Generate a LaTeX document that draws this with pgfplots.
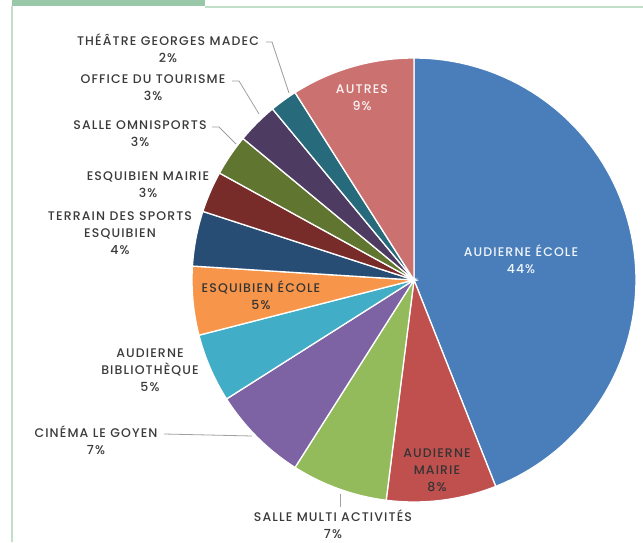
\documentclass[border=0pt]{standalone}
\usepackage{fontspec}
\setmainfont{Poppins}[BoldFont={Poppins Medium}]
\usepackage{pgfplots}
\pgfplotsset{compat=1.18}

\definecolor{cBlue}{HTML}{4A7EBB}
\definecolor{cRed}{HTML}{C0504D}
\definecolor{cGreen}{HTML}{93BB5C}
\definecolor{cPurple}{HTML}{7D62A4}
\definecolor{cAqua}{HTML}{42ADC6}
\definecolor{cOrange}{HTML}{F7964A}
\definecolor{cDBlue}{HTML}{284D74}
\definecolor{cDRed}{HTML}{772C2A}
\definecolor{cDGreen}{HTML}{5F7530}
\definecolor{cDPurple}{HTML}{4D3B62}
\definecolor{cTeal}{HTML}{276A7C}
\definecolor{cRose}{HTML}{CB7270}
\definecolor{lab}{HTML}{3A3A3A}
\definecolor{lead}{HTML}{A0A0A0}
\definecolor{frameA}{HTML}{98C8A8}
\definecolor{frameB}{HTML}{C0DEC8}

% slice: percentage, colour (clockwise from 12 o'clock)
\xdef\sStart{90}
\newcommand\slice[2]{%
  \pgfmathsetmacro\sEnd{\sStart-3.6*#1}%
  \edef\tmp{\noexpand\addplot[fill=#2, draw=white, line width=1.3pt,
    domain=\sEnd:\sStart, samples=80, data cs=polar] ({x},{1}) -- (axis cs:0,0) -- cycle;}%
  \tmp
  \xdef\sStart{\sEnd}}

\begin{document}
\begin{tikzpicture}
\path[use as bounding box] (0,0) rectangle (643pt,542pt);

\begin{axis}[
    at={(414pt,262pt)}, anchor=center,
    x=222pt, y=222pt,
    xmin=-1.05, xmax=1.05, ymin=-1.05, ymax=1.05,
    hide axis, clip=false,
]
\slice{44}{cBlue}    % Audierne école
\slice{8}{cRed}      % Audierne mairie
\slice{7}{cGreen}    % Salle multi activités
\slice{7}{cPurple}   % Cinéma le Goyen
\slice{5}{cAqua}     % Audierne bibliothèque
\slice{5}{cOrange}   % Esquibien école
\slice{4}{cDBlue}    % Terrain des sports
\slice{3}{cDRed}     % Esquibien mairie
\slice{3}{cDGreen}   % Salle omnisports
\slice{3}{cDPurple}  % Office du tourisme
\slice{2}{cTeal}     % Théâtre
\slice{9}{cRose}     % Autres
\end{axis}

\begin{scope}[x=1pt, y=-1pt, yshift=542pt]
  % frame
  \fill[frameA] (12,0) rectangle (205,6);
  \draw[frameB, line width=2pt] (205,7) -- (643,7);
  \draw[frameB, line width=1.6pt] (12,6) -- (12,542);

  % leader lines
  \draw[lead, line width=0.8pt] (266,42) -- (272,42) -- (289,93);
  \draw[lead, line width=0.8pt] (232,81) -- (239,81) -- (259,114);
  \draw[lead, line width=0.8pt] (212,127) -- (219,127) -- (236,144);
  \draw[lead, line width=0.8pt] (164,434) -- (252,436);
  \draw[lead, line width=0.8pt] (340,494) -- (340,507);

  \tikzset{lbl/.style={align=center, text=lab, inner sep=0pt,
      font=\fontsize{12.5}{17}\selectfont\bfseries\addfontfeatures{LetterSpace=9}}}
  \node[lbl] at (168,48.5) {THÉÂTRE GEORGES MADEC\\2\%};
  \node[lbl] at (153,87.5) {OFFICE DU TOURISME\\3\%};
  \node[lbl] at (140,133.5) {SALLE OMNISPORTS\\3\%};
  \node[lbl] at (148,184.5) {ESQUIBIEN MAIRIE\\3\%};
  \node[lbl] at (120,233) {TERRAIN DES SPORTS\\ESQUIBIEN\\4\%};
  \node[lbl] at (150,370) {AUDIERNE\\BIBLIOTHÈQUE\\5\%};
  \node[lbl] at (96,440) {CINÉMA LE GOYEN\\7\%};
  \node[lbl] at (333,524) {SALLE MULTI ACTIVITÉS\\7\%};
  \node[lbl, text=lab!90!black] at (261,295) {ESQUIBIEN ÉCOLE\\5\%};
  \node[lbl, text=lab!90!black] at (437,470) {AUDIERNE\\MAIRIE\\8\%};
  \node[lbl, text=white!92!cBlue] at (521,259) {AUDIERNE ÉCOLE\\44\%};
  \node[lbl, text=white!92!cRose] at (362,97.5) {AUTRES\\9\%};
\end{scope}
\end{tikzpicture}
\end{document}
